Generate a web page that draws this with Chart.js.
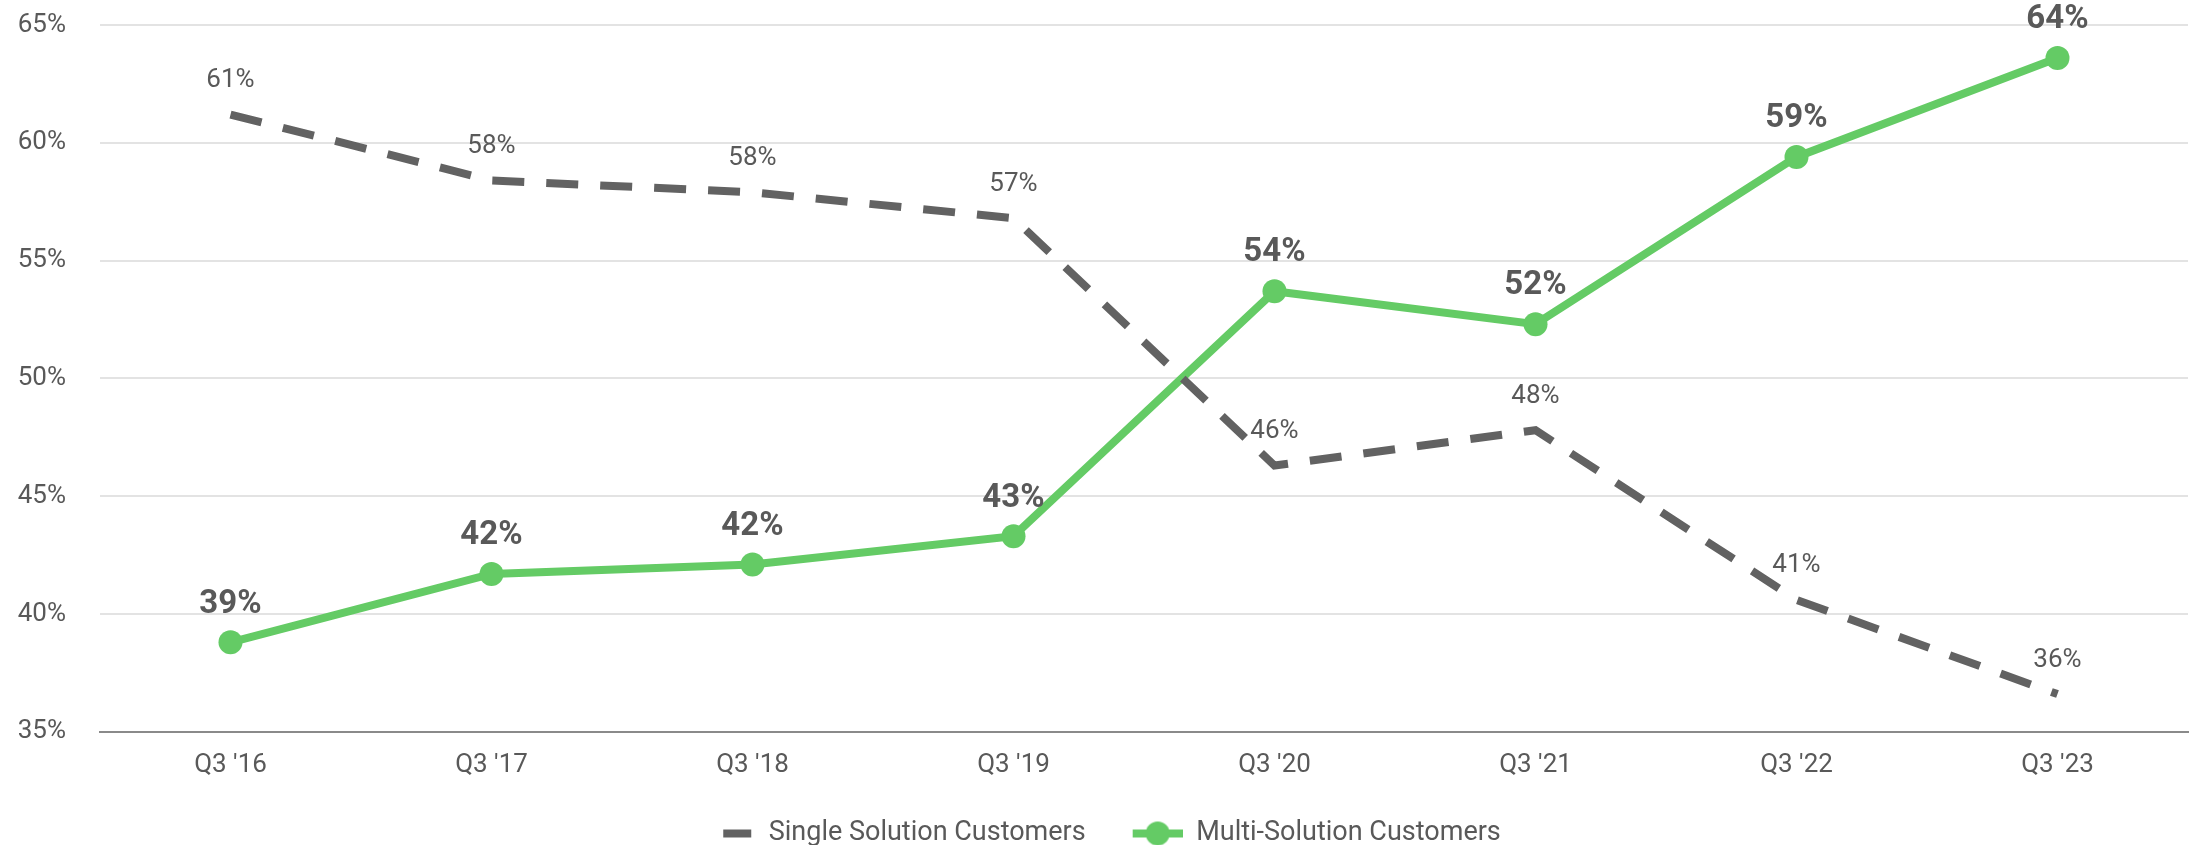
<!DOCTYPE html>
<html>
<head>
<meta charset="utf-8">
<script src="https://cdn.jsdelivr.net/npm/chart.js@4.4.1/dist/chart.umd.min.js"></script>
<style>
  html, body { margin: 0; padding: 0; background: #fff; }
  #wrap { width: 2201px; height: 845px; }
</style>
</head>
<body>
<div id="wrap"><canvas id="lineChart"></canvas></div>
<script>
// data
var categories = ["Q3 '16", "Q3 '17", "Q3 '18", "Q3 '19", "Q3 '20", "Q3 '21", "Q3 '22", "Q3 '23"];
var singleValues = [61.2, 58.4, 57.9, 56.8, 46.3, 47.8, 40.6, 36.6];
var multiValues = [38.8, 41.7, 42.1, 43.3, 53.7, 52.3, 59.4, 63.6];
var singleLabels = ["61%", "58%", "58%", "57%", "46%", "48%", "41%", "36%"];
var multiLabels = ["39%", "42%", "42%", "43%", "54%", "52%", "59%", "64%"];
var yTicks = [35, 40, 45, 50, 55, 60, 65];

var GREEN = '#64cb65';
var GREY = '#626262';
var TEXT = '#595959';

// petites images pour la légende (marge transparente à gauche pour l'espacement)
function legendIcon(type) {
    var c = document.createElement('canvas');
    c.width = 68;
    c.height = 26;
    var g = c.getContext('2d');
    if (type === 'dash') {
        g.fillStyle = GREY;
        g.fillRect(36, 9, 28, 8);
    } else {
        g.strokeStyle = GREEN;
        g.lineWidth = 8;
        g.beginPath();
        g.moveTo(18, 13);
        g.lineTo(68, 13);
        g.stroke();
        g.fillStyle = GREEN;
        g.beginPath();
        g.arc(43, 13, 12, 0, Math.PI * 2);
        g.fill();
    }
    return c;
}

var valueLabels = {
    id: 'valueLabels',
    afterDatasetsDraw: function (chart) {
        var ctx = chart.ctx;
        ctx.save();
        ctx.textAlign = 'center';
        ctx.textBaseline = 'middle';
        ctx.fillStyle = TEXT;
        chart.data.datasets.forEach(function (ds, i) {
            var meta = chart.getDatasetMeta(i);
            var texts = ds.valueTexts;
            ctx.font = ds.labelBold ? 'bold 33px Roboto' : '26px Roboto';
            for (var j = 0; j < meta.data.length; j++) {
                var p = meta.data[j];
                ctx.fillText(texts[j], p.x, p.y - ds.labelOffset);
            }
        });
        ctx.restore();
    }
};

new Chart(document.getElementById('lineChart'), {
    type: 'line',
    data: {
        labels: categories,
        datasets: [{
            label: 'Single Solution Customers',
            data: singleValues,
            valueTexts: singleLabels,
            labelBold: false,
            labelOffset: 34,
            borderColor: GREY,
            backgroundColor: GREY,
            borderWidth: 8,
            borderDash: [32, 22],
            pointRadius: 0,
            tension: 0,
            legendIcon: legendIcon('dash')
        }, {
            label: 'Multi-Solution Customers',
            data: multiValues,
            valueTexts: multiLabels,
            labelBold: true,
            labelOffset: 38,
            borderColor: GREEN,
            backgroundColor: GREEN,
            borderWidth: 8,
            pointRadius: 12,
            pointBackgroundColor: GREEN,
            pointBorderWidth: 0,
            tension: 0,
            legendIcon: legendIcon('circle')
        }]
    },
    options: {
        responsive: true,
        maintainAspectRatio: false,
        animation: false,
        layout: { padding: { top: 25, right: 13, left: 0, bottom: -12 } },
        plugins: {
            tooltip: { enabled: false },
            legend: {
                position: 'bottom',
                labels: {
                    color: TEXT,
                    font: { family: 'Roboto', size: 27 },
                    usePointStyle: true,
                    pointStyleWidth: 68,
                    padding: 29,
                    generateLabels: function (chart) {
                        return chart.data.datasets.map(function (ds, i) {
                            return {
                                text: ds.label,
                                pointStyle: ds.legendIcon,
                                fontColor: TEXT,
                                strokeStyle: 'transparent',
                                fillStyle: 'transparent',
                                lineWidth: 0,
                                datasetIndex: i
                            };
                        });
                    }
                }
            }
        },
        scales: {
            x: {
                offset: true,
                grid: { display: false },
                border: { color: '#8a8a8a', width: 2 },
                ticks: {
                    color: TEXT,
                    font: { family: 'Roboto', size: 26 },
                    padding: 10
                }
            },
            y: {
                min: 35,
                max: 65,
                afterBuildTicks: function (scale) {
                    scale.ticks = yTicks.map(function (v) { return { value: v }; });
                },
                afterFit: function (scale) { scale.width = 100; },
                grid: {
                    color: '#e3e3e3',
                    lineWidth: 2,
                    drawTicks: true,
                    tickLength: 34,
                    tickColor: 'transparent'
                },
                border: { display: false },
                ticks: {
                    color: TEXT,
                    font: { family: 'Roboto', size: 26 },
                    padding: 0,
                    callback: function (v) { return v + '%'; }
                }
            }
        }
    },
    plugins: [valueLabels]
});
</script>
</body>
</html>
